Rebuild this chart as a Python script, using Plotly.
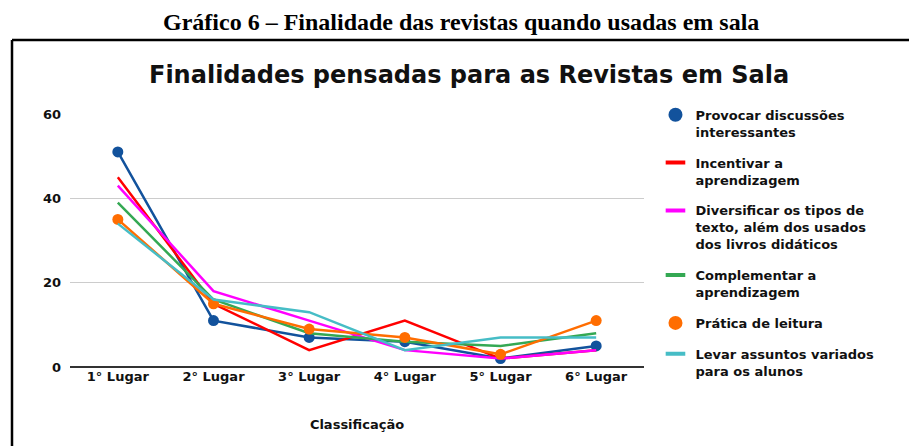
import plotly.graph_objects as go

categories = ["1° Lugar", "2° Lugar", "3° Lugar", "4° Lugar", "5° Lugar", "6° Lugar"]
provocar = [51, 11, 7, 6, 2, 5]
incentivar = [45, 15, 4, 11, 2, 4]
diversificar = [43, 18, 11, 4, 2, 4]
complementar = [39, 16, 8, 6, 5, 8]
pratica = [35, 15, 9, 7, 3, 11]
levar = [34, 16, 13, 4, 7, 7]

names = [
    "Provocar discussões<br>interessantes",
    "Incentivar a<br>aprendizagem",
    "Diversificar os tipos de<br>texto, além dos usados<br>dos livros didáticos",
    "Complementar a<br>aprendizagem",
    "Prática de leitura",
    "Levar assuntos variados<br>para os alunos",
]
series = [provocar, incentivar, diversificar, complementar, pratica, levar]
colors = ["#12529c", "#ff0000", "#ff00ff", "#34a853", "#ff6d01", "#46bdc6"]
has_markers = [True, False, False, False, True, False]

FONT = "DejaVu Sans"
fig = go.Figure()

for vals, col, mk in zip(series, colors, has_markers):
    fig.add_trace(go.Scatter(
        x=categories, y=vals,
        mode="lines+markers" if mk else "lines",
        line=dict(color=col, width=2.5),
        marker=dict(size=11, color=col),
        showlegend=False, hoverinfo="skip",
    ))

for i, (nm, col, mk) in enumerate(zip(names, colors, has_markers)):
    if mk:
        fig.add_trace(go.Scatter(
            x=[None], y=[None], mode="markers", name=nm,
            marker=dict(size=14, color=col), legendgroup=str(i),
        ))
    else:
        fig.add_trace(go.Scatter(
            x=[None], y=[None], mode="markers", name=nm,
            marker=dict(symbol="line-ew", size=14, color=col,
                        line=dict(color=col, width=4)),
            legendgroup=str(i),
        ))

fig.update_layout(
    width=909, height=438,
    margin=dict(l=62, r=273, t=106, b=79),
    paper_bgcolor="white", plot_bgcolor="white",
    font=dict(family=FONT, color="#111111", size=13, weight=700),
    xaxis=dict(
        type="category", range=[-0.5, 5.5],
        showgrid=False, ticks="", showline=False,
        tickfont=dict(family=FONT, size=13, weight=700, color="#111111"),
        title=dict(text="Classificação", font=dict(family=FONT, size=13, weight=700, color="#111111"), standoff=36),
    ),
    yaxis=dict(
        range=[0, 60], tickvals=[0, 20, 40, 60],
        showgrid=True, gridcolor="#cccccc", gridwidth=1,
        zeroline=True, zerolinecolor="#333333", zerolinewidth=1.5,
        ticks="", ticklabelstandoff=8,
        tickfont=dict(family=FONT, size=13, weight=700, color="#111111"),
    ),
    legend=dict(
        x=1.02, y=1.056, xanchor="left", yanchor="top",
        valign="top", tracegroupgap=11, maxheight=400,
        font=dict(family=FONT, size=13, weight=700, color="#111111"),
        bgcolor="rgba(0,0,0,0)",
    ),
    annotations=[
        dict(text="Gráfico 6 – Finalidade das revistas quando usadas em sala",
             xref="paper", yref="paper", x=(461 - 70) / 574, y=359 / 253,
             xanchor="center", yanchor="top", showarrow=False, borderpad=0,
             font=dict(family="Liberation Serif", size=24, weight=700, color="black")),
        dict(text="Finalidades pensadas para as Revistas em Sala",
             xref="paper", yref="paper", x=(469 - 70) / 574, y=(367 - 75) / 253,
             xanchor="center", yanchor="middle", showarrow=False,
             font=dict(family=FONT, size=24, weight=700, color="#111111")),
    ],
    shapes=[
        dict(type="line", xref="paper", yref="paper",
             x0=(12 - 70) / 574, x1=(930 - 70) / 574,
             y0=(367 - 40) / 253, y1=(367 - 40) / 253,
             line=dict(color="black", width=2.5)),
        dict(type="line", xref="paper", yref="paper",
             x0=(12 - 70) / 574, x1=(12 - 70) / 574,
             y0=(367 - 40) / 253, y1=(367 - 460) / 253,
             line=dict(color="black", width=2.5)),
    ],
)

fig.write_html("out.html")
